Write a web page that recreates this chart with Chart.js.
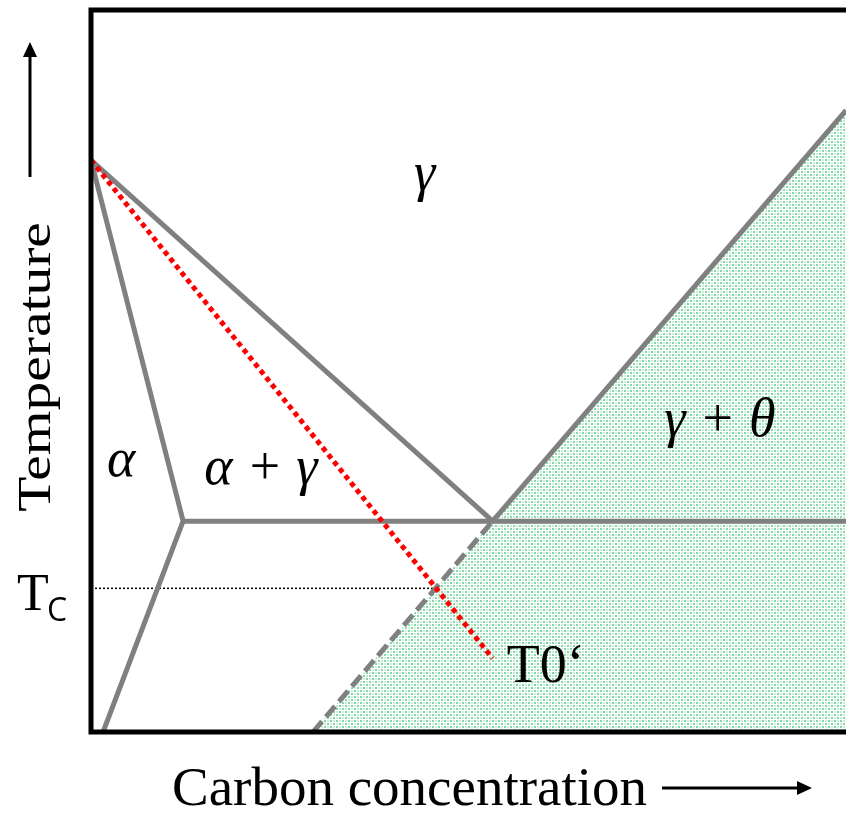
<!DOCTYPE html>
<html>
<head>
<meta charset="utf-8">
<script src="https://cdn.jsdelivr.net/npm/chart.js@4.4.1/dist/chart.umd.min.js"></script>
<style>
  html, body { margin: 0; padding: 0; background: #fff; }
  canvas { display: block; }
</style>
</head>
<body>
<canvas id="diagram" width="846" height="814"></canvas>
<script>
// phase boundaries, arbitrary units (carbon 0-100, temperature 0-100)
const a3X = [0, 53.2];            // gamma / alpha+gamma boundary
const a3Y = [79.2, 29.2];
const alphaX = [0, 12.2, 1.6];    // alpha / alpha+gamma boundary
const alphaY = [79.2, 29.2, 0];
const eutectoidX = [12.2, 100];
const eutectoidY = [29.2, 29.2];
const acmX = [53.2, 100];         // solid Acm line
const acmY = [29.2, 86.1];
const acmExtX = [29.4, 53.2];     // dashed extrapolation
const acmExtY = [0, 29.2];
const t0X = [0, 53.2];            // T0' line
const t0Y = [79.2, 10.2];
const tcX = [0, 45.6];
const tcY = [19.9, 19.9];

// region labels
const labelText = ['\u03b3', '\u03b1', '\u03b1 + \u03b3', '\u03b3 + \u03b8'];
const labelX = [44.2, 4.0, 22.5, 83.3];
const labelY = [77.1, 37.4, 36.3, 42.9];

const pts = (xs, ys) => xs.map((x, i) => ({ x: x, y: ys[i] }));

// green stipple for the gamma + cementite field
function stipple() {
    const c = document.createElement('canvas');
    c.width = 6; c.height = 6;
    const g = c.getContext('2d');
    g.fillStyle = '#ffffff';
    g.fillRect(0, 0, 6, 6);
    g.fillStyle = 'rgba(50,190,110,0.6)';
    g.fillRect(0, 0, 2, 2);
    g.fillRect(3, 3, 2, 2);
    g.fillStyle = 'rgba(50,190,110,0.28)';
    g.fillRect(3, 0, 2, 2);
    g.fillRect(0, 3, 2, 2);
    return g.createPattern(c, 'repeat');
}

const ctx = document.getElementById('diagram').getContext('2d');
const gray = '#808080';

const decorations = {
    id: 'decorations',
    afterDraw(chart) {
        const { ctx, chartArea: ca, scales } = chart;
        const sx = scales.x, sy = scales.y;
        ctx.save();

        // frame
        ctx.strokeStyle = '#000';
        ctx.lineWidth = 5;
        ctx.beginPath();
        ctx.moveTo(ca.right + 5, ca.top);
        ctx.lineTo(ca.left, ca.top);
        ctx.lineTo(ca.left, ca.bottom);
        ctx.lineTo(ca.right + 5, ca.bottom);
        ctx.stroke();

        // region labels
        ctx.fillStyle = '#000';
        ctx.textAlign = 'center';
        ctx.textBaseline = 'middle';
        ctx.font = 'italic 54px "Liberation Serif"';
        labelText.forEach((t, i) => {
            ctx.fillText(t, sx.getPixelForValue(labelX[i]), sy.getPixelForValue(labelY[i]));
        });

        // T0' tag at the end of the red line
        ctx.textAlign = 'left';
        ctx.textBaseline = 'alphabetic';
        ctx.font = '54px "Liberation Serif"';
        ctx.fillText('T0\u2018', sx.getPixelForValue(t0X[1]) + 14, sy.getPixelForValue(t0Y[1]) + 24);

        // Tc on the left
        const tcPix = sy.getPixelForValue(tcY[0]);
        ctx.font = '52px "Liberation Serif"';
        ctx.fillText('T', 17, tcPix + 22);
        ctx.font = '32px "Open Sans"';
        ctx.fillText('C', 47, tcPix + 33);

        // axis titles
        ctx.font = '55px "Liberation Serif"';
        ctx.fillText('Carbon concentration', 172, 805);

        ctx.save();
        ctx.translate(50, 367);
        ctx.rotate(-Math.PI / 2);
        ctx.scale(1.25, 1);
        ctx.textAlign = 'center';
        ctx.font = '46px "Liberation Serif"';
        ctx.fillText('Temperature', 0, 0);
        ctx.restore();

        // arrows
        ctx.lineWidth = 3;
        ctx.beginPath();
        ctx.moveTo(662, 788); ctx.lineTo(800, 788);
        ctx.moveTo(30, 177); ctx.lineTo(30, 55);
        ctx.stroke();
        ctx.beginPath();
        ctx.moveTo(812, 788); ctx.lineTo(797, 781); ctx.lineTo(797, 795); ctx.closePath();
        ctx.moveTo(30, 42); ctx.lineTo(23, 57); ctx.lineTo(37, 57); ctx.closePath();
        ctx.fill();

        ctx.restore();
    }
};

new Chart(ctx, {
    type: 'scatter',
    data: {
        datasets: [
            {
                label: 'gamma + theta',
                data: pts(acmExtX.concat(acmX.slice(1)), acmExtY.concat(acmY.slice(1))),
                showLine: true,
                borderWidth: 0,
                backgroundColor: stipple(),
                fill: 'origin',
                pointRadius: 0,
                order: 10
            },
            {
                label: 'Tc',
                data: pts(tcX, tcY),
                showLine: true,
                borderColor: '#000',
                borderWidth: 1.5,
                borderDash: [2, 2],
                pointRadius: 0,
                order: 5
            },
            {
                label: 'A3',
                data: pts(a3X, a3Y),
                showLine: true,
                borderColor: gray,
                borderWidth: 5,
                pointRadius: 0,
                order: 2
            },
            {
                label: 'alpha',
                data: pts(alphaX, alphaY),
                showLine: true,
                borderColor: gray,
                borderWidth: 5,
                pointRadius: 0,
                order: 2
            },
            {
                label: 'eutectoid',
                data: pts(eutectoidX, eutectoidY),
                showLine: true,
                borderColor: gray,
                borderWidth: 5,
                pointRadius: 0,
                order: 2
            },
            {
                label: 'Acm',
                data: pts(acmX, acmY),
                showLine: true,
                borderColor: gray,
                borderWidth: 5,
                pointRadius: 0,
                order: 2
            },
            {
                label: 'Acm extrapolated',
                data: pts(acmExtX, acmExtY),
                showLine: true,
                borderColor: gray,
                borderWidth: 5,
                borderDash: [14, 6],
                pointRadius: 0,
                order: 2
            },
            {
                label: "T0'",
                data: pts(t0X, t0Y),
                showLine: true,
                borderColor: '#ff0000',
                borderWidth: 5,
                borderDash: [5, 4],
                pointRadius: 0,
                order: 0
            }
        ]
    },
    options: {
        responsive: false,
        animation: false,
        layout: { padding: { left: 91, top: 10, right: 0, bottom: 82 } },
        plugins: {
            legend: { display: false },
            tooltip: { enabled: false }
        },
        scales: {
            x: { type: 'linear', min: 0, max: 100, display: false },
            y: { type: 'linear', min: 0, max: 100, display: false }
        }
    },
    plugins: [decorations]
});
</script>
</body>
</html>
